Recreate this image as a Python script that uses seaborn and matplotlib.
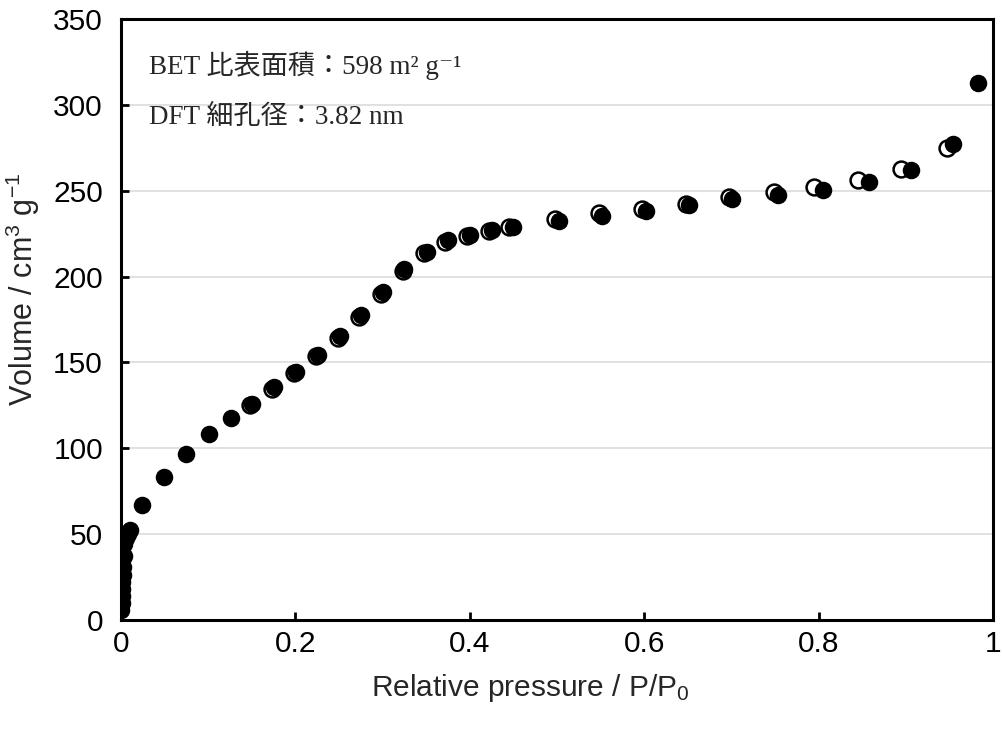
import matplotlib
matplotlib.use("Agg")
import matplotlib.pyplot as plt
import seaborn as sns
import pandas as pd

# Adsorption branch (filled markers)
ads_p = [0.0005, 0.0008, 0.0010, 0.0012, 0.0015, 0.0020, 0.0025, 0.0030, 0.0040,
         0.0060, 0.0080, 0.0105, 0.024, 0.049, 0.075, 0.101, 0.126, 0.1505, 0.175,
         0.2005, 0.2255, 0.251, 0.275, 0.3008, 0.325, 0.3506, 0.3754, 0.4002, 0.425,
         0.450, 0.5027, 0.552, 0.6017, 0.6517, 0.701, 0.7538, 0.8046, 0.8578, 0.906,
         0.9545, 0.983]
ads_v = [6.0, 10.0, 14.0, 18.0, 22.0, 26.0, 31.0, 37.0, 44.0,
         47.5, 50.0, 52.5, 67.0, 83.4, 96.7, 108.1, 117.8, 126.0, 135.5,
         144.6, 154.3, 165.4, 177.6, 191.2, 204.2, 214.5, 221.0, 224.3, 227.2,
         228.7, 232.6, 235.5, 238.4, 241.4, 245.0, 247.5, 250.5, 254.9, 262.1,
         277.1, 312.5]

# Desorption branch (open markers)
des_p = [0.947, 0.895, 0.8456, 0.795, 0.749, 0.6976, 0.648, 0.597, 0.548, 0.4977,
         0.4453, 0.4215, 0.397, 0.372, 0.348, 0.323, 0.298, 0.273, 0.2485, 0.2235,
         0.1985, 0.1735, 0.1485]
des_v = [275.1, 262.7, 256.3, 252.4, 249.0, 246.5, 242.3, 239.4, 236.8, 233.6,
         229.0, 226.5, 223.5, 220.0, 213.5, 203.0, 190.0, 176.5, 164.5, 153.5,
         143.7, 134.6, 125.3]

x_ticks = [0, 0.2, 0.4, 0.6, 0.8, 1]
x_tick_labels = ["0", "0.2", "0.4", "0.6", "0.8", "1"]
y_ticks = [0, 50, 100, 150, 200, 250, 300, 350]

note_lines = ["BET 比表面積：598 m² g⁻¹", "DFT 細孔径：3.82 nm"]

sns.set_theme(style="white")
plt.rcParams["font.family"] = ["Liberation Sans", "DejaVu Sans"]
plt.rcParams["mathtext.fontset"] = "custom"
plt.rcParams["mathtext.rm"] = "Liberation Sans"
plt.rcParams["mathtext.it"] = "Liberation Sans:italic"

ads = pd.DataFrame({"p": ads_p, "v": ads_v})
des = pd.DataFrame({"p": des_p, "v": des_v})

fig = plt.figure(figsize=(10.03, 7.33), dpi=100)
ax = fig.add_axes([0.1206, 0.1542, 0.8694, 0.8199])

ax.set_axisbelow(True)
ax.yaxis.grid(True, color="#d9d9d9", linewidth=1.1)
ax.xaxis.grid(False)

sns.scatterplot(data=des, x="p", y="v", ax=ax, s=130, marker="o",
                facecolor="white", edgecolor="black", linewidth=1.8, zorder=3)
sns.scatterplot(data=ads, x="p", y="v", ax=ax, s=130, marker="o",
                color="black", edgecolor="black", linewidth=1.2, zorder=4)

ax.set_xlim(0, 1)
ax.set_ylim(0, 350)
ax.set_xticks(x_ticks)
ax.set_xticklabels(x_tick_labels)
ax.set_yticks(y_ticks)
ax.tick_params(axis="both", which="major", direction="in", length=6, width=2,
               labelsize=21.5, colors="black",
               top=False, right=False, bottom=True, left=True)
ax.tick_params(axis="x", pad=7)
ax.tick_params(axis="y", pad=13)

for side in ["left", "bottom", "top", "right"]:
    ax.spines[side].set_visible(True)
    ax.spines[side].set_color("black")
    ax.spines[side].set_linewidth(2.2)

ax.set_xlabel(r"Relative pressure / P/P$_\mathregular{0}$", fontsize=21.5)
ax.set_ylabel(r"Volume / cm$^\mathregular{3}$ g$^\mathregular{-1}$", fontsize=22)
ax.xaxis.set_label_coords(0.469, -0.086)
ax.yaxis.set_label_coords(-0.090, 0.55)

serif_cjk = ["Liberation Serif", "Noto Sans CJK JP", "DejaVu Serif"]
ax.text(0.032, 0.922, note_lines[0], transform=ax.transAxes, fontsize=19.5,
        family=serif_cjk, va="center", ha="left")
ax.text(0.032, 0.837, note_lines[1], transform=ax.transAxes, fontsize=19.5,
        family=serif_cjk, va="center", ha="left")

fig.savefig("out.png", dpi=100)
